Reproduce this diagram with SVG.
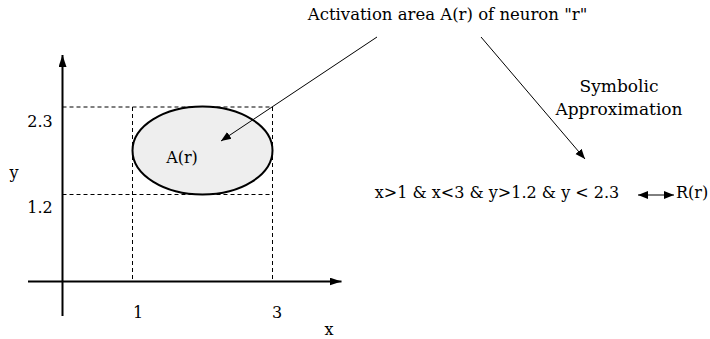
<svg xmlns="http://www.w3.org/2000/svg" width="710" height="339" viewBox="0 0 710 339">
<defs>
<style>
text{font-family:"DejaVu Serif","Liberation Serif",serif;font-size:16px;fill:#000}
.ttl{font-size:16.5px}
.apx{font-size:17px}
.dash{stroke:#000;stroke-width:1;stroke-dasharray:4,3;fill:none}
.axis{stroke:#000;stroke-width:2;fill:none}
.thin{stroke:#000;stroke-width:1;fill:none}
</style>
<marker id="ah" viewBox="0 0 10 10" refX="10" refY="5" markerWidth="10" markerHeight="10" markerUnits="userSpaceOnUse" orient="auto-start-reverse"><path d="M0,1 L10,5 L0,9 z" fill="#000"/></marker>
<marker id="axh" viewBox="0 0 12 8" refX="12" refY="4" markerWidth="12" markerHeight="8" markerUnits="userSpaceOnUse" orient="auto"><path d="M0,0 L12,4 L0,8 z" fill="#000"/></marker>
</defs>
<g id="axes">
<line class="axis" x1="28" y1="281.5" x2="341.5" y2="281.5" marker-end="url(#axh)"/>
<line class="axis" x1="62.5" y1="316" x2="62.5" y2="55" marker-end="url(#axh)"/>
</g>
<g id="grid">
<line class="dash" x1="62.5" y1="107" x2="272.5" y2="107"/>
<line class="dash" x1="62.5" y1="194.5" x2="272.5" y2="194.5"/>
<line class="dash" x1="132.5" y1="107" x2="132.5" y2="281"/>
<line class="dash" x1="272.5" y1="107" x2="272.5" y2="281"/>
</g>
<g id="area">
<ellipse cx="202.5" cy="150.5" rx="70" ry="44" fill="#eeeeee" stroke="#000" stroke-width="2"/>
<text x="182" y="163" text-anchor="middle">A(r)</text>
</g>
<g id="labels">
<text x="40" y="127" text-anchor="middle">2.3</text>
<text x="40" y="213" text-anchor="middle">1.2</text>
<text x="14" y="178" text-anchor="middle">y</text>
<text x="138" y="318" text-anchor="middle">1</text>
<text x="277" y="318" text-anchor="middle">3</text>
<text x="329" y="335" text-anchor="middle">x</text>
</g>
<g id="title">
<text class="ttl" x="447.5" y="20" text-anchor="middle">Activation area A(r) of neuron "r"</text>
</g>
<g id="approx">
<text class="apx" x="619" y="92" text-anchor="middle">Symbolic</text>
<text class="apx" x="619" y="115" text-anchor="middle">Approximation</text>
</g>
<g id="rule">
<text x="497" y="198" text-anchor="middle">x&gt;1 &amp; x&lt;3 &amp; y&gt;1.2 &amp; y &lt; 2.3</text>
<text x="676" y="198">R(r)</text>
</g>
<g id="connectors">
<line class="thin" x1="377" y1="37" x2="221" y2="141" marker-end="url(#ah)"/>
<line class="thin" x1="481" y1="37" x2="585" y2="159" marker-end="url(#ah)"/>
<line class="thin" x1="638" y1="195" x2="674" y2="195" marker-start="url(#ah)" marker-end="url(#ah)"/>
</g>
</svg>
